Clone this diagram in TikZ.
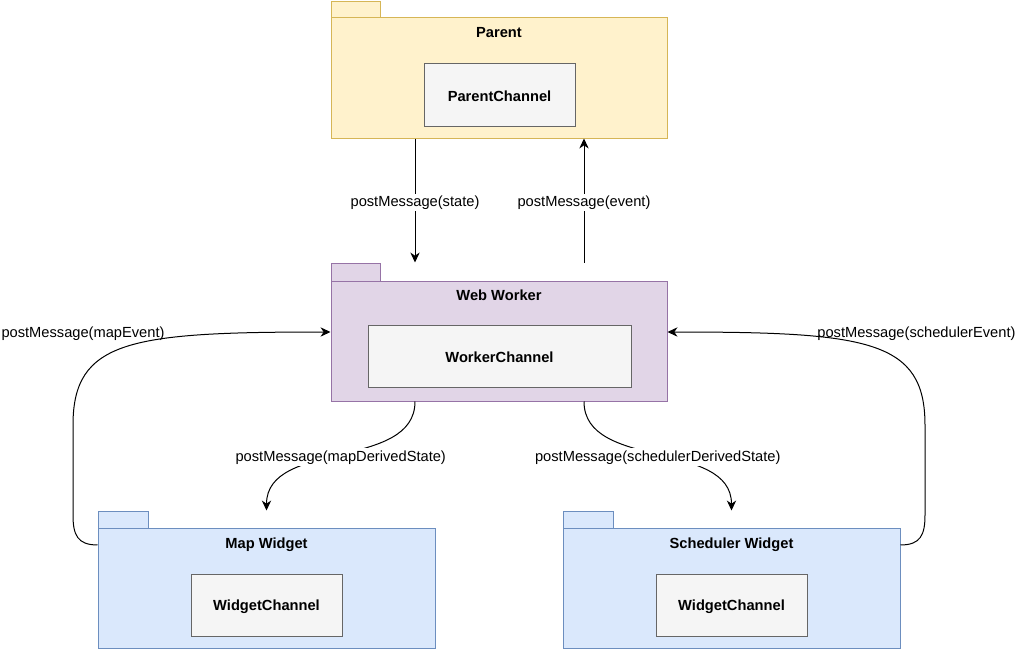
\documentclass[tikz,border=0pt]{standalone}
\usepackage{fontspec}
\setmainfont{Liberation Sans}
\usetikzlibrary{arrows.meta,fit,calc}
\definecolor{yfill}{HTML}{FFF2CC}\definecolor{ydraw}{HTML}{D6B656}
\definecolor{pfill}{HTML}{E1D5E7}\definecolor{pdraw}{HTML}{9673A6}
\definecolor{bfill}{HTML}{DAE8FC}\definecolor{bdraw}{HTML}{6C8EBF}
\definecolor{gfill}{HTML}{F5F5F5}\definecolor{gdraw}{HTML}{666666}
\begin{document}
\begin{tikzpicture}[x=0.75pt,y=-0.75pt,line width=0.75pt,
  bounds/.style={inner sep=0pt,draw=none},
  ypkg/.style={inner sep=0pt,fill=yfill,draw=ydraw},
  ppkg/.style={inner sep=0pt,fill=pfill,draw=pdraw},
  bpkg/.style={inner sep=0pt,fill=bfill,draw=bdraw},
  chan/.style={inner sep=0pt,fill=gfill,draw=gdraw},
  titletext/.style={font=\bfseries\fontsize{11}{13}\selectfont,inner sep=0pt,yshift=-1pt},
  lbl/.style={font=\fontsize{11}{13}\selectfont,fill=white,inner sep=1.5pt,yshift=-1.5pt},
  plainlbl/.style={font=\fontsize{11}{13}\selectfont,inner sep=0pt},
  arr/.style={draw=black,-{Stealth[length=7.5pt,width=7pt,inset=2.4pt]}}]
\useasboundingbox (0,0) rectangle (1018,650);
% Parent
\node[bounds,fit={(331,1)(667,138)}] (parent) {};
\node[ypkg,fit={(331,1)(380,17)}] (parenttab) {};
\node[ypkg,fit={(331,17)(667,138)}] (parentbody) {};
\node[titletext] (parenttitle) at (499,31) {Parent};
\node[chan,fit={(424,63)(575,126)}] (parentch) {};
\node[titletext] (parentchtext) at (parentch.center) {ParentChannel};
% Web Worker
\node[bounds,fit={(331,263)(667,401)}] (ww) {};
\node[ppkg,fit={(331,263)(380,281)}] (wwtab) {};
\node[ppkg,fit={(331,281)(667,401)}] (wwbody) {};
\node[titletext] (wwtitle) at (499,294) {Web Worker};
\node[chan,fit={(368,325)(631,387)}] (wwch) {};
\node[titletext] (wwchtext) at (wwch.center) {WorkerChannel};
% Map Widget
\node[bounds,fit={(98,511)(435,648)}] (map) {};
\node[bpkg,fit={(98,511)(148,528)}] (maptab) {};
\node[bpkg,fit={(98,528)(435,648)}] (mapbody) {};
\node[titletext] (maptitle) at (266.5,543) {Map Widget};
\node[chan,fit={(191,574)(342,636)}] (mapch) {};
\node[titletext] (mapchtext) at (mapch.center) {WidgetChannel};
% Scheduler Widget
\node[bounds,fit={(563,511)(900,648)}] (sch) {};
\node[bpkg,fit={(563,511)(613,528)}] (schtab) {};
\node[bpkg,fit={(563,528)(900,648)}] (schbody) {};
\node[titletext] (schtitle) at (731.5,543) {Scheduler Widget};
\node[chan,fit={(656,574)(807,636)}] (schch) {};
\node[titletext] (schchtext) at (schch.center) {WidgetChannel};
% Parent <-> Worker
\draw[arr] ([xshift=-63pt]parent.south) -- node[lbl,pos=0.5] {postMessage(state)} ([xshift=-63pt]ww.north);
\draw[arr] ([xshift=63.75pt]ww.north) -- node[lbl,pos=0.5] {postMessage(event)} ([xshift=63.75pt]parent.south);
% Worker -> widgets
\draw[arr] ([xshift=-63pt]ww.south) .. controls +(0,69) and +(0,-71) .. node[lbl,pos=0.5] {postMessage(mapDerivedState)} (map.north);
\draw[arr] ([xshift=63.75pt]ww.south) .. controls +(0,69) and +(0,-71) .. node[lbl,pos=0.5] {postMessage(schedulerDerivedState)} (sch.north);
% Widgets -> worker
\coordinate (ml1) at (73,515);
\coordinate (ml2) at (73,425);
\draw[arr] ([yshift=25.9pt]map.west) .. controls +(-20,0) and +(0,20) .. (ml1) -- (ml2) .. controls +(0,-85) and +(-200,0) .. (ww.west);
\coordinate (sr1) at (925,515);
\coordinate (sr2) at (925,425);
\draw[arr] ([yshift=25.9pt]sch.east) .. controls +(20,0) and +(0,20) .. (sr1) -- (sr2) .. controls +(0,-85) and +(200,0) .. (ww.east);
\node[plainlbl,anchor=west] (mapevlbl) at (1,333.5) {postMessage(mapEvent)};
\node[plainlbl,anchor=east] (schevlbl) at (1016,333.5) {postMessage(schedulerEvent)};
\end{tikzpicture}
\end{document}
